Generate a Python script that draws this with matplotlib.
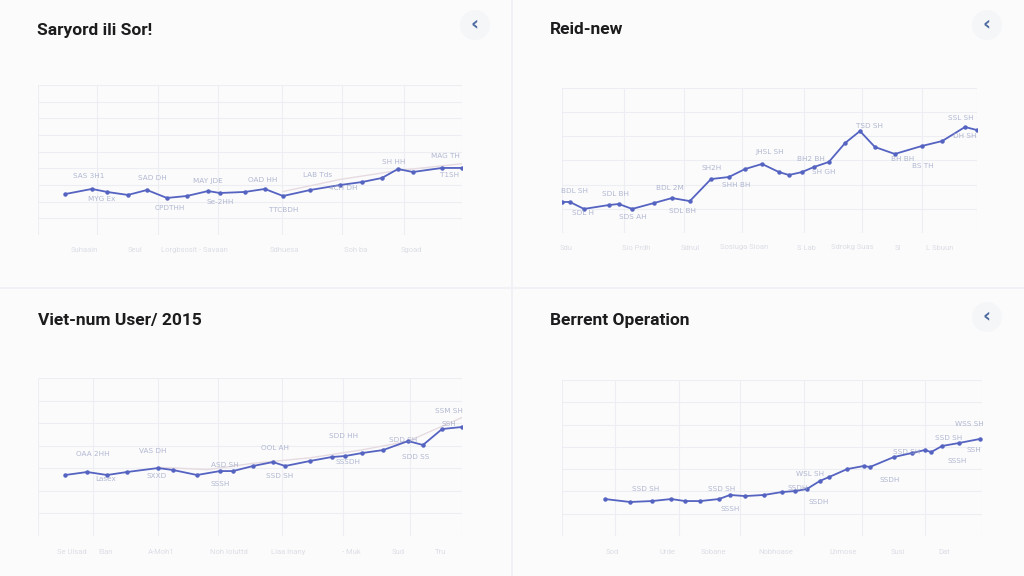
import matplotlib
matplotlib.use("Agg")
import matplotlib.pyplot as plt
from matplotlib.patches import Rectangle, Ellipse
import numpy as np

plt.rcParams['font.family'] = ['Roboto', 'DejaVu Sans']

W, H = 1024, 576

# ---- data (x and y on a 0-100 scale) ----
titles = ["Saryord ili Sor!", "Reid-new", "Viet-num User/ 2015", "Berrent Operation"]

x_tl = [6.4, 12.7, 16.3, 21.2, 25.7, 30.4, 35.1, 40.1, 42.9, 48.8, 53.5, 57.8, 64.2, 71.2, 76.4, 81.1, 84.9, 88.4, 95.3, 100]
y_tl = [27.3, 30.7, 28.7, 26.7, 30.0, 24.7, 26.0, 29.3, 28.0, 28.7, 30.7, 26.0, 30.0, 33.3, 35.3, 38.0, 44.0, 42.0, 44.7, 44.7]

x_tr = [0, 1.9, 5.3, 11.3, 13.7, 16.9, 22.2, 26.5, 30.8, 35.9, 40.2, 44.1, 48.2, 52.3, 54.7, 57.8, 60.7, 64.3, 68.2, 71.8, 75.4, 80.2, 86.7, 91.6, 97.1, 100]
y_tr = [21.4, 21.4, 16.6, 19.3, 20.0, 16.6, 20.7, 24.1, 22.0, 37.2, 38.6, 44.1, 47.6, 42.0, 40.0, 42.0, 45.5, 49.0, 62.0, 70.3, 59.3, 54.5, 60.0, 63.4, 73.1, 71.0]

x_bl = [6.4, 11.6, 16.3, 21.0, 28.3, 31.8, 37.5, 42.9, 46.0, 50.7, 55.4, 58.3, 64.2, 69.3, 72.4, 76.4, 81.4, 87.3, 90.8, 95.3, 100]
y_bl = [38.6, 40.5, 38.6, 40.5, 43.0, 41.8, 38.6, 41.1, 41.1, 44.3, 46.8, 44.3, 47.5, 50.0, 50.6, 52.5, 54.4, 60.1, 57.6, 67.7, 69.0]

x_br = [10.2, 16.2, 21.4, 26.0, 29.3, 32.9, 37.4, 40.0, 43.6, 48.1, 52.4, 55.5, 58.3, 61.4, 63.6, 67.9, 71.9, 73.3, 79.0, 83.3, 86.4, 87.9, 90.5, 94.5, 99.5]
y_br = [23.7, 21.8, 22.4, 23.7, 22.4, 22.4, 23.7, 26.3, 25.6, 26.3, 28.2, 28.8, 30.1, 35.3, 37.8, 42.9, 44.9, 44.2, 50.6, 53.2, 55.1, 53.8, 57.7, 59.6, 62.2]

# faint secondary lines
gx_tl = [57.8, 71.2, 84.9, 100]
gy_tl = [29.0, 37.0, 43.0, 47.5]
gx_bl = [28.3, 40.0, 50.7, 64.2, 76.4, 87.3, 100]
gy_bl = [43.5, 42.0, 46.0, 49.5, 54.5, 60.0, 75.0]

series = [(x_tl, y_tl), (x_tr, y_tr), (x_bl, y_bl), (x_br, y_br)]
ghosts = [(gx_tl, gy_tl), None, (gx_bl, gy_bl), None]

# garbled point labels: (x, y, text)
labels_tl = [(12, 39, "SAS 3H1"), (15, 24, "MYG Ex"), (27, 38, "SAD DH"), (31, 18, "CPDTHH"),
             (40, 36, "MAY JDE"), (43, 22, "Se-2HH"), (53, 37, "OAD HH"), (58, 17, "TTCBDH"),
             (66, 40, "LAB Tds"), (72, 31, "4CH DH"), (84, 49, "SH HH"), (96, 53, "MAG TH"),
             (97, 40, "T1SH")]
labels_tr = [(3, 29, "BDL SH"), (5, 14, "SDL H"), (13, 27, "SDL BH"), (17, 11, "SDS AH"),
             (26, 31, "BDL 2M"), (29, 15, "SDL BH"), (36, 45, "SH2H"), (42, 33, "SHH BH"),
             (50, 56, "JHSL SH"), (60, 51, "BH2 BH"), (63, 42, "SH GH"), (74, 74, "TSD SH"),
             (82, 51, "BH BH"), (87, 46, "BS TH"), (96, 79, "SSL SH"), (97, 67, "DH SH")]
labels_bl = [(13, 52, "OAA 2HH"), (16, 36, "Lasex"), (27, 54, "VAS DH"), (28, 38, "SXXD"),
             (44, 45, "ASD SH"), (43, 33, "SSSH"), (56, 56, "OOL AH"), (57, 38, "SSD SH"),
             (72, 63, "SDD HH"), (73, 47, "SSSDH"), (86, 61, "SDD SH"), (89, 50, "SDD SS"),
             (97, 79, "SSM SH"), (97, 71, "SSH")]
labels_br = [(20, 30, "SSD SH"), (38, 30, "SSD SH"), (40, 17, "SSSH"), (56, 31, "SSDH"),
             (59, 40, "WSL SH"), (61, 22, "SSDH"), (82, 54, "SSD SH"), (78, 36, "SSDH"),
             (92, 63, "SSD SH"), (94, 48, "SSSH"), (97, 72, "WSS SH"), (98, 55, "SSH")]
point_labels = [labels_tl, labels_tr, labels_bl, labels_br]

xticks_tl = ["Suhaain", "Seul", "Lorgbsosit - Savaan", "Sdhuesa", "Soh ba", "Sgoad"]
xticks_tr = ["Sdu", "Sio Prdh", "Sdnul", "Sosiuga Sioan", "S Lab", "Sdrokg Suas", "Sl", "L Sbuun"]
xticks_bl = ["Se Ulsad", "Elan", "A-Moh1", "Noh Ioluttd", "Llaa Inany", "- Muk", "Sud", "Tru"]
xticks_br = ["Sod", "Urde", "Sobane", "Nobhoase", "Lhmose", "Susi", "Dat"]
xticks = [xticks_tl, xticks_tr, xticks_bl, xticks_br]
xtick_pos = [[11, 23, 37, 58, 75, 88], [1, 18, 31, 44, 59, 70, 81, 91],
             [8, 16, 29, 45, 59, 74, 85, 95], [12, 25, 36, 51, 67, 80, 91]]

# ---- layout in pixels ----
cards = [(0, 0, 511, 287), (513, 0, 511, 287), (0, 289, 511, 287), (513, 289, 511, 287)]
axes_px = [(38, 85, 462, 235), (562, 88, 977, 233), (38, 378, 462, 536), (562, 380, 982, 536)]
title_px = [(37, 30), (550, 30), (38, 321), (550, 321)]
icon_px = [(475, 25), (987, 25), None, (987, 317)]
grid_rows = [9, 6, 7, 7]
grid_cols = [[0, 14, 28.3, 42.5, 57.5, 71.7, 86.3, 100], [0, 15, 29.4, 43.4, 58.3, 72.3, 86.7, 100],
             [0, 13, 28.3, 42.5, 57.5, 71.9, 87.7, 100], [0, 12.6, 27.9, 42.4, 57.6, 71.4, 86.4, 100]]

line_col = "#5563c1"
fig = plt.figure(figsize=(W / 100, H / 100), dpi=100)
fig.patch.set_facecolor("#f0f1f4")

def fx(px):
    return px / W

def fy(py):
    return 1 - py / H

for k in range(4):
    cx, cy, cw, ch = cards[k]
    fig.patches.append(Rectangle((fx(cx), fy(cy + ch)), cw / W, ch / H, transform=fig.transFigure,
                                 facecolor="#fbfbfc", edgecolor="none", zorder=-5))
    tx, ty = title_px[k]
    fig.text(fx(tx), fy(ty), titles[k], fontsize=12.5, fontweight="bold", color="#1c1c1e",
             ha="left", va="center")
    if icon_px[k] is not None:
        ix, iy = icon_px[k]
        fig.patches.append(Ellipse((fx(ix), fy(iy)), 30 / W, 30 / H, transform=fig.transFigure,
                                   facecolor="#f4f6f8", edgecolor="none", zorder=-4))
        fig.text(fx(ix), fy(iy) + 1 / H, "‹", fontsize=14, fontweight="bold", color="#4d6aa0",
                 ha="center", va="center", family="DejaVu Sans")

    l, t, r, b = axes_px[k]
    ax = fig.add_axes([fx(l), fy(b), (r - l) / W, (b - t) / H])
    ax.set_zorder(2)
    ax.set_facecolor("none")
    ax.set_xlim(0, 100)
    ax.set_ylim(0, 100)
    for s in ax.spines.values():
        s.set_visible(False)
    ax.set_xticks([])
    ax.set_yticks([])
    for gx in grid_cols[k]:
        ax.axvline(gx, color="#eceef3", lw=0.8, zorder=1)
    for gy in np.linspace(0, 100, grid_rows[k] + 1):
        ax.axhline(gy, color="#eceef3", lw=0.8, zorder=1)

    if ghosts[k] is not None:
        gxs, gys = ghosts[k]
        ax.plot(gxs, gys, color="#e6dbe0", lw=1.0, zorder=2)

    xs, ys = series[k]
    ax.plot(xs, ys, color=line_col, lw=1.3, marker="o", ms=2.2, zorder=3)

    for (lx, ly, lt) in point_labels[k]:
        ax.text(lx, ly, lt, fontsize=5.2, color="#98a1c2", alpha=0.75, ha="center", va="center",
                family="DejaVu Sans", zorder=4)

    for pos, lab in zip(xtick_pos[k], xticks[k]):
        ax.text(pos, -10, lab, fontsize=5.5, color="#dcdee5", ha="center", va="center",
                transform=ax.transData, clip_on=False)

fig.savefig("out.png", dpi=100, facecolor=fig.get_facecolor())
